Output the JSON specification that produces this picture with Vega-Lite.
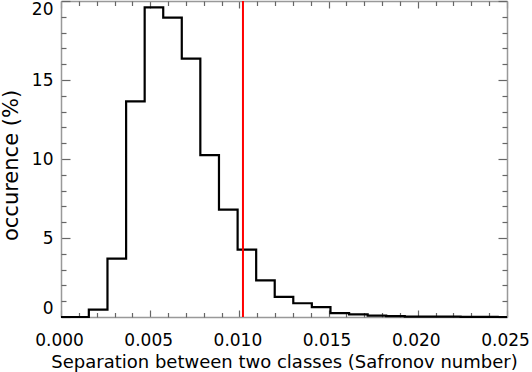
{
  "$schema": "https://vega.github.io/schema/vega-lite/v6.json",
  "width": 446,
  "height": 316,
  "autosize": {"type": "none"},
  "padding": {"left": 61, "top": 1, "right": 25, "bottom": 55},
  "background": "white",
  "config": {
    "view": {"stroke": null},
    "axis": {
      "grid": false,
      "domainColor": "#999999",
      "domainWidth": 1.5,
      "tickColor": "#666666",
      "tickWidth": 1.2,
      "labelFont": "DejaVu Sans",
      "labelFontSize": 17,
      "labelColor": "#000000",
      "titleFont": "DejaVu Sans",
      "titleFontWeight": "normal",
      "titleColor": "#000000"
    }
  },
  "data": {
    "values": [
      {"x": 0.0, "pct": 0},
      {"x": 0.00104, "pct": 0},
      {"x": 0.00208, "pct": 0.47},
      {"x": 0.00313, "pct": 3.7},
      {"x": 0.00417, "pct": 13.65},
      {"x": 0.00521, "pct": 19.6},
      {"x": 0.00625, "pct": 18.95},
      {"x": 0.00729, "pct": 16.35},
      {"x": 0.00833, "pct": 10.25},
      {"x": 0.00938, "pct": 6.8},
      {"x": 0.01042, "pct": 4.27},
      {"x": 0.01146, "pct": 2.32},
      {"x": 0.0125, "pct": 1.27},
      {"x": 0.01354, "pct": 0.87},
      {"x": 0.01458, "pct": 0.63},
      {"x": 0.01563, "pct": 0.25},
      {"x": 0.01667, "pct": 0.17},
      {"x": 0.01771, "pct": 0.09},
      {"x": 0.01875, "pct": 0.05},
      {"x": 0.01979, "pct": 0.03},
      {"x": 0.02083, "pct": 0.02},
      {"x": 0.02188, "pct": 0.02},
      {"x": 0.02292, "pct": 0.01},
      {"x": 0.02396, "pct": 0.01},
      {"x": 0.025, "pct": 0}
    ]
  },
  "layer": [
    {
      "mark": {"type": "line", "interpolate": "step", "color": "#000000", "strokeWidth": 2.2},
      "encoding": {
        "x": {
          "field": "x", "type": "quantitative",
          "scale": {"domain": [0, 0.025], "nice": false, "zero": false},
          "axis": {
            "orient": "bottom",
            "title": "Separation between two classes (Safronov number)",
            "titleFontSize": 18,
            "titleBaseline": "alphabetic",
            "titleY": 50,
            "values": [0, 0.005, 0.01, 0.015, 0.02, 0.025],
            "format": ".3f",
            "tickSize": -7,
            "labelPadding": 22,
            "labelOffset": -2,
            "labelFlush": false,
            "labelOverlap": false
          }
        },
        "y": {
          "field": "pct", "type": "quantitative",
          "scale": {"domain": [0, 20], "nice": false},
          "axis": {
            "orient": "left",
            "title": "occurence (%)",
            "titleFontSize": 21,
            "titleBaseline": "alphabetic",
            "titleX": -44,
            "titleY": 164,
            "values": [0, 5, 10, 15, 20],
            "format": "d",
            "tickSize": -9,
            "labelPadding": 17,
            "labelFlush": true,
            "labelOverlap": false
          }
        }
      }
    },
    {
      "mark": {"type": "line", "interpolate": "step", "opacity": 0},
      "encoding": {
        "x": {
          "field": "x", "type": "quantitative",
          "axis": {
            "orient": "bottom", "title": null, "labels": false, "domain": false,
            "offset": -4.5, "tickSize": 4.5,
            "values": [0.001,0.002,0.003,0.004,0.006,0.007,0.008,0.009,0.011,0.012,0.013,0.014,0.016,0.017,0.018,0.019,0.021,0.022,0.023,0.024]
          }
        },
        "y": {
          "field": "pct", "type": "quantitative",
          "axis": {
            "orient": "left", "title": null, "labels": false, "domain": false,
            "offset": -5, "tickSize": 5,
            "values": [1,2,3,4,6,7,8,9,11,12,13,14,16,17,18,19]
          }
        }
      }
    },
    {
      "mark": {"type": "line", "interpolate": "step", "opacity": 0},
      "encoding": {
        "x": {
          "field": "x", "type": "quantitative",
          "axis": {
            "orient": "top", "title": null, "labels": false,
            "values": [0, 0.005, 0.01, 0.015, 0.02, 0.025],
            "tickSize": -7
          }
        },
        "y": {
          "field": "pct", "type": "quantitative",
          "axis": {
            "orient": "right", "title": null, "labels": false,
            "values": [0, 5, 10, 15, 20],
            "tickSize": -9
          }
        }
      }
    },
    {
      "mark": {"type": "line", "interpolate": "step", "opacity": 0},
      "encoding": {
        "x": {
          "field": "x", "type": "quantitative",
          "axis": {
            "orient": "top", "title": null, "labels": false, "domain": false,
            "offset": -4.5, "tickSize": 4.5,
            "values": [0.001,0.002,0.003,0.004,0.006,0.007,0.008,0.009,0.011,0.012,0.013,0.014,0.016,0.017,0.018,0.019,0.021,0.022,0.023,0.024]
          }
        },
        "y": {
          "field": "pct", "type": "quantitative",
          "axis": {
            "orient": "right", "title": null, "labels": false, "domain": false,
            "offset": -5, "tickSize": 5,
            "values": [1,2,3,4,6,7,8,9,11,12,13,14,16,17,18,19]
          }
        }
      }
    },
    {
      "data": {"values": [{"sep": 0.0102}]},
      "mark": {"type": "rule", "color": "#ff0000", "strokeWidth": 2},
      "encoding": {
        "x": {"field": "sep", "type": "quantitative", "axis": null}
      }
    }
  ],
  "resolve": {"axis": {"x": "independent", "y": "independent"}}
}
